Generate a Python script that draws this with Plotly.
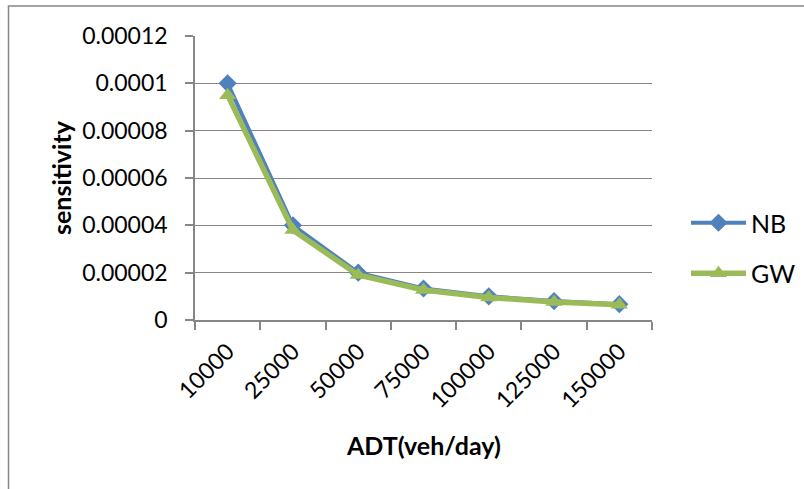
import plotly.graph_objects as go

# ---- data ----
adt_categories = ["10000", "25000", "50000", "75000", "100000", "125000", "150000"]
nb_values = [0.0001, 0.00004, 0.00002, 0.0000133, 0.00001, 0.000008, 0.0000067]
gw_values = [0.000095, 0.000038, 0.000019, 0.0000127, 0.0000095, 0.0000076, 0.0000064]
y_tick_values = [0, 0.00002, 0.00004, 0.00006, 0.00008, 0.0001, 0.00012]
y_tick_labels = ["0", "0.00002", "0.00004", "0.00006", "0.00008", "0.0001", "0.00012"]

FONT = "Lato"
GRID = "#868686"
BLUE = "#4F81BD"
GREEN = "#9BBB59"

fig = go.Figure()
fig.add_trace(go.Scatter(
    x=adt_categories, y=nb_values, name="NB", mode="lines+markers",
    line=dict(color=BLUE, width=4),
    marker=dict(symbol="diamond", size=14, color=BLUE),
    legendgroup="nb",
))
fig.add_trace(go.Scatter(
    x=adt_categories, y=gw_values, name="GW", mode="lines+markers",
    line=dict(color=GREEN, width=5.5),
    marker=dict(symbol="triangle-up", size=15, color=GREEN),
    legendgroup="gw",
))

W, H = 804, 489
L, R, T, B = 195, 152, 36, 169
pw, ph = W - L - R, H - T - B

def px_x(x):
    return (x - L) / pw

def px_y(y):
    return (H - B - y) / ph

fig.update_layout(
    width=W, height=H,
    margin=dict(l=L, r=R, t=T, b=B, autoexpand=False),
    paper_bgcolor="white", plot_bgcolor="white",
    font=dict(family=FONT, size=23, color="black"),
    showlegend=True,
    legend=dict(
        x=px_x(686), y=px_y(200), xanchor="left", yanchor="top",
        font=dict(family=FONT, size=25, color="black"),
        itemwidth=55, tracegroupgap=15, traceorder="grouped",
        bgcolor="rgba(0,0,0,0)",
    ),
    xaxis=dict(
        type="category", tickson="boundaries",
        showgrid=False, showline=True, linecolor=GRID, linewidth=1.5,
        ticks="outside", ticklen=8, tickcolor=GRID, tickwidth=1.5,
        tickangle=-45, tickfont=dict(family=FONT, size=23),
        ticklabelstandoff=7,
        range=[-0.5, 6.5], automargin=False,
    ),
    yaxis=dict(
        range=[0, 0.00012], tickvals=y_tick_values, ticktext=y_tick_labels,
        showgrid=True, gridcolor=GRID, gridwidth=1.3,
        showline=True, linecolor=GRID, linewidth=1.5,
        ticks="outside", ticklen=8, tickcolor=GRID, tickwidth=1.5,
        tickfont=dict(family=FONT, size=23), ticklabelstandoff=13,
        zeroline=False, automargin=False,
    ),
    annotations=[
        dict(text="<b>sensitivity</b>", xref="paper", yref="paper",
             x=px_x(61), y=px_y(178), textangle=-90, showarrow=False,
             xanchor="center", yanchor="middle", font=dict(family=FONT, size=25)),
        dict(text="<b>ADT(veh/day)</b>", xref="paper", yref="paper",
             x=px_x(423), y=px_y(445), showarrow=False,
             xanchor="center", yanchor="middle", font=dict(family=FONT, size=25)),
    ],
    shapes=[
        dict(type="rect", xref="paper", yref="paper",
             x0=px_x(8.5), x1=px_x(830), y0=px_y(520), y1=px_y(6),
             line=dict(color=GRID, width=1.5), fillcolor="rgba(0,0,0,0)", layer="below"),
    ],
)

fig.write_html("out.html")
